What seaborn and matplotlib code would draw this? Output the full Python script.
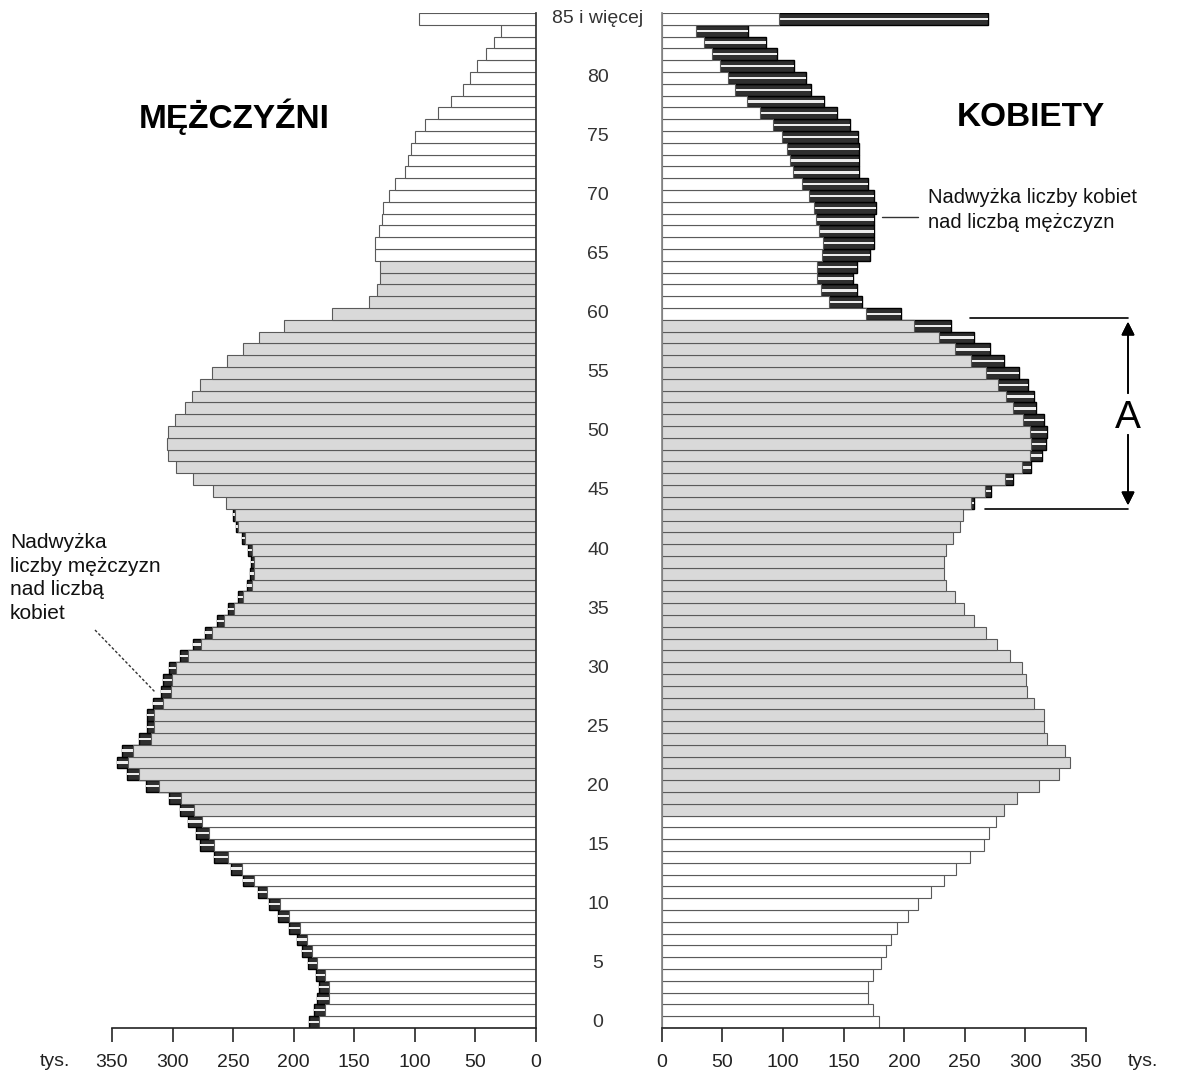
import numpy as np
import pandas as pd
import seaborn as sns
import matplotlib.pyplot as plt
from matplotlib.lines import Line2D

# age groups 0..84 plus "85 i wiecej"
ages = list(range(86))

# population in thousands
males = [187.6, 183, 180.5, 179.5, 181.5, 188.5, 193, 197, 204, 213,
         220.5, 229.5, 242, 252, 266, 277, 281, 287, 294, 303,
         322, 338, 345.5, 342, 328, 321, 321, 316, 309.5, 308,
         303, 294, 283, 273, 263.5, 254.5, 246, 238.5, 236, 235.5,
         237.5, 242.5, 247.5, 250.5, 255.5, 267, 283, 297, 304, 305,
         303.5, 298, 289.5, 284, 277, 267.5, 255, 242, 228.5, 208,
         168.5, 138, 131.5, 128.5, 128.5, 132.5, 133, 129.5, 127.5, 126,
         121.5, 116, 108.5, 106, 103.5, 99.5, 91.5, 81, 70.5, 60.5,
         54.5, 48.5, 41.5, 35, 28.5, 96.5]
females = [179.5, 174.5, 170.5, 170.5, 174, 180.5, 185, 189, 194.5, 203.5,
           211.5, 222, 232.5, 242.5, 254.5, 265.5, 270, 275.5, 282.5, 293,
           311.5, 328, 337, 332.5, 318, 315, 315, 307.5, 301.5, 300.5,
           297.5, 287.5, 276.5, 267.5, 257.5, 249.5, 242, 234.5, 232.5, 232.5,
           234.5, 240.5, 246, 248.5, 257.5, 272, 289.5, 305, 313.5, 317,
           317.5, 315, 308.5, 307.5, 302.5, 295, 282, 271, 258, 239,
           197.5, 165, 161, 157.5, 161, 171.5, 175.5, 175.5, 175.5, 177,
           175.5, 170, 163, 163, 163, 162, 155.5, 144.5, 133.5, 123.5,
           119, 109, 95.5, 86, 71.5, 269]

# working age ranges (grey bars)
work_m = (18, 64)
work_f = (18, 59)

age_labels = {a: str(a) for a in range(0, 85, 5)}
age_labels[85] = '85 i więcej'
x_ticks = [0, 50, 100, 150, 200, 250, 300, 350]

sns.set_theme(style='white')
plt.rcParams['font.family'] = ['Liberation Sans', 'DejaVu Sans']

df = pd.DataFrame({'age': ages, 'm': males, 'f': females})
df['low'] = df[['m', 'f']].min(axis=1)
df['grp_m'] = np.where((df.age >= work_m[0]) & (df.age <= work_m[1]), 'g', 'w')
df['grp_f'] = np.where((df.age >= work_f[0]) & (df.age <= work_f[1]), 'g', 'w')

W, H = 1195, 1074
fig = plt.figure(figsize=(W / 100, H / 100), dpi=100)


def px(x, y):
    return x / W, 1 - y / H


axL = fig.add_axes([112 / W, 46 / H, 424 / W, 1015 / H])
axR = fig.add_axes([661.7 / W, 46 / H, 424.3 / W, 1015 / H])


def draw_side(ax, col, grp):
    exc = df[df[col] > df['low']]
    # excess part: dark cylinder with light stripe
    sns.barplot(data=exc, x=col, y='age', orient='y', native_scale=True,
                width=1, color='#2f2f2f', edgecolor='black', linewidth=1.0,
                errorbar=None, saturation=1, ax=ax)
    sns.barplot(data=exc, x=col, y='age', orient='y', native_scale=True,
                width=0.2, color='#ececec', linewidth=0, errorbar=None,
                saturation=1, ax=ax)
    # common part
    sns.barplot(data=df, x='low', y='age', hue=grp, orient='y',
                native_scale=True, width=1, dodge=False,
                palette={'g': '#d9d9d9', 'w': 'white'}, edgecolor='#5a5a5a',
                linewidth=0.8, errorbar=None, saturation=1, legend=False, ax=ax)
    ax.set_ylim(-0.5, 85.5)
    ax.set_yticks([])
    ax.set_xlabel('')
    ax.set_ylabel('')
    ax.set_xticks(x_ticks)
    ax.tick_params(axis='x', bottom=True, direction='out', length=10,
                   width=1.2, labelsize=14, labelcolor='#222222', pad=9)
    for s in ['top', 'left', 'right']:
        ax.spines[s].set_visible(False)
    ax.spines['bottom'].set_color('#222222')
    ax.spines['bottom'].set_linewidth(1.2)


draw_side(axL, 'm', 'grp_m')
axL.set_xlim(350, 0)
axL.spines['right'].set_visible(True)
axL.spines['right'].set_color('#333333')

draw_side(axR, 'f', 'grp_f')
axR.set_xlim(0, 350)
axR.spines['left'].set_visible(True)
axR.spines['left'].set_color('#888888')

# age labels in the middle
import matplotlib.transforms as mtrans
tr = mtrans.blended_transform_factory(fig.transFigure, axR.transData)
for a, lab in age_labels.items():
    fig.text(598 / W, a, lab, transform=tr, ha='center', va='center',
             fontsize=14, color='#333333')

fig.text(*px(55, 1062), 'tys.', ha='center', va='center', fontsize=14, color='#222222')
fig.text(*px(1143, 1062), 'tys.', ha='center', va='center', fontsize=14, color='#222222')

# titles
fig.text(*px(234, 117), 'MĘŻCZYŹNI', ha='center', va='center', fontsize=24,
         fontweight='bold', color='black')
fig.text(*px(1031, 117), 'KOBIETY', ha='center', va='center', fontsize=24,
         fontweight='bold', color='black')

# annotations
fig.text(*px(928, 210), 'Nadwyżka liczby kobiet\nnad liczbą mężczyzn', ha='left',
         va='center', fontsize=14.5, linespacing=1.35, color='#111111')
fig.add_artist(Line2D([882 / W, 918 / W], [1 - 217 / H, 1 - 217 / H],
                      color='#333333', lw=1))

fig.text(*px(10, 578), 'Nadwyżka\nliczby mężczyzn\nnad liczbą\nkobiet', ha='left',
         va='center', fontsize=15, linespacing=1.3, color='#111111')
fig.add_artist(Line2D([95 / W, 155 / W], [1 - 630 / H, 1 - 692 / H],
                      color='#333333', lw=1, ls=(0, (2, 1.5))))

# bracket A
fig.add_artist(Line2D([970 / W, 1128 / W], [1 - 318 / H, 1 - 318 / H], color='black', lw=1.2))
fig.add_artist(Line2D([985 / W, 1128 / W], [1 - 509 / H, 1 - 509 / H], color='black', lw=1.2))
fig.text(*px(1128, 418), 'A', ha='center', va='center', fontsize=28, color='black')
fig.add_artist(plt.annotate('', xy=px(1128, 319), xytext=px(1128, 396),
                            xycoords='figure fraction', textcoords='figure fraction',
                            arrowprops=dict(arrowstyle='-|>', color='black', lw=1.2,
                                            mutation_scale=20)))
fig.add_artist(plt.annotate('', xy=px(1128, 508), xytext=px(1128, 432),
                            xycoords='figure fraction', textcoords='figure fraction',
                            arrowprops=dict(arrowstyle='-|>', color='black', lw=1.2,
                                            mutation_scale=20)))

fig.savefig('out.png', dpi=100)
